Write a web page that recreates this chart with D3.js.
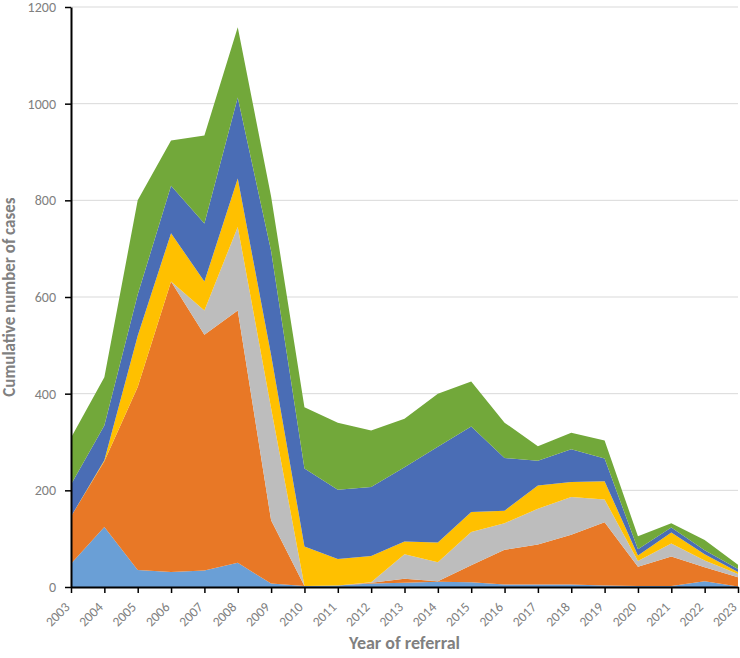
<!DOCTYPE html>
<html>
<head>
<meta charset="utf-8">
<script src="https://cdn.jsdelivr.net/npm/d3@7"></script>
<style>
  body { margin: 0; background: #fff; }
  svg text { font-family: Calibri, Carlito, Lato, "Open Sans", sans-serif; }
</style>
</head>
<body>
<div id="chart"></div>
<script>
// years on the x axis
const years = d3.range(2003, 2024);

// one array per stacked series, bottom to top
const series1 = [48, 124, 35, 31, 34, 50, 7, 2, 3, 7, 9, 11, 10, 5, 5, 5, 3, 2, 2, 12, 1];
const series2 = [98, 136, 379, 601, 488, 522, 131, 0, 0, 2, 8, 1, 35, 72, 83, 103, 131, 40, 61, 29, 19];
const series3 = [0, 0, 0, 0, 50, 173, 232, 0, 0, 1, 51, 39, 69, 55, 74, 78, 47, 12, 27, 14, 7];
const series4 = [0, 2, 106, 100, 60, 100, 110, 82, 55, 54, 26, 41, 41, 26, 48, 31, 38, 11, 23, 13, 4];
const series5 = [66, 72, 85, 98, 120, 168, 215, 161, 143, 143, 154, 198, 177, 109, 51, 68, 47, 13, 10, 8, 6];
const series6 = [97, 100, 195, 94, 182, 145, 113, 127, 139, 117, 100, 110, 93, 73, 30, 34, 37, 27, 9, 21, 9];

const keys = ["s1", "s2", "s3", "s4", "s5", "s6"];
const colors = ["#6A9FD6", "#E87826", "#BDBDBD", "#FFC000", "#4A6DB5", "#72A83A"];
const yTicks = [0, 200, 400, 600, 800, 1000, 1200];

const drawChart = () => {
  const margin = {top: 7, right: 2, bottom: 71, left: 71};
  const width = 740 - margin.left - margin.right;
  const height = 658 - margin.top - margin.bottom;

  const svg = d3.select("#chart")
    .append("svg")
    .attr("width", 740)
    .attr("height", 658);

  const g = svg.append("g")
    .attr("transform", `translate(${margin.left},${margin.top})`);

  // build table for the stack
  const data = years.map((yr, i) => ({
    year: yr,
    s1: series1[i], s2: series2[i], s3: series3[i],
    s4: series4[i], s5: series5[i], s6: series6[i]
  }));

  const x = d3.scaleLinear().domain([2003, 2023]).range([0, width]);
  const y = d3.scaleLinear().domain([0, 1200]).range([height, 0]);

  // gridlines behind the areas
  g.append("g")
    .selectAll("line")
    .data(yTicks.slice(1))
    .join("line")
    .attr("x1", 0)
    .attr("x2", width)
    .attr("y1", d => y(d))
    .attr("y2", d => y(d))
    .attr("stroke", "#D9D9D9")
    .attr("stroke-width", 1);

  const stacked = d3.stack().keys(keys)(data);
  const color = d3.scaleOrdinal().domain(keys).range(colors);

  const area = d3.area()
    .x(d => x(d.data.year))
    .y0(d => y(d[0]))
    .y1(d => y(d[1]));

  g.append("g")
    .selectAll("path")
    .data(stacked)
    .join("path")
    .attr("fill", d => color(d.key))
    .attr("d", area);

  // y axis
  const yAxis = g.append("g")
    .call(d3.axisLeft(y).tickValues(yTicks).tickFormat(d3.format("d"))
      .tickSize(6).tickPadding(9).tickSizeOuter(0));
  yAxis.select(".domain").attr("stroke", "#000").attr("stroke-width", 2);
  yAxis.selectAll(".tick line").attr("stroke", "#000").attr("stroke-width", 1.5);
  yAxis.selectAll(".tick text")
    .attr("fill", "#808080")
    .style("font-size", "14px");

  // x axis
  const xAxis = g.append("g")
    .attr("transform", `translate(0,${height})`)
    .call(d3.axisBottom(x).tickValues(years).tickFormat(d3.format("d")).tickSize(6).tickSizeOuter(0));
  xAxis.select(".domain").attr("stroke", "#000").attr("stroke-width", 2);
  xAxis.selectAll(".tick line").attr("stroke", "#000").attr("stroke-width", 1.5);
  xAxis.selectAll(".tick text")
    .attr("fill", "#808080")
    .style("font-size", "13.5px")
    .attr("text-anchor", "end")
    .attr("y", 0)
    .attr("dy", "0")
    .attr("transform", "translate(-1,21) rotate(-45)");

  // axis titles
  svg.append("text")
    .attr("x", margin.left + width / 2)
    .attr("y", 649)
    .attr("text-anchor", "middle")
    .attr("fill", "#808080")
    .style("font-size", "18px")
    .style("font-weight", "bold")
    .text("Year of referral");

  svg.append("text")
    .attr("transform", `translate(15,${margin.top + height / 2}) rotate(-90)`)
    .attr("text-anchor", "middle")
    .attr("fill", "#808080")
    .style("font-size", "17px")
    .style("font-weight", "bold")
    .text("Cumulative number of cases");
};

drawChart();
</script>
</body>
</html>
